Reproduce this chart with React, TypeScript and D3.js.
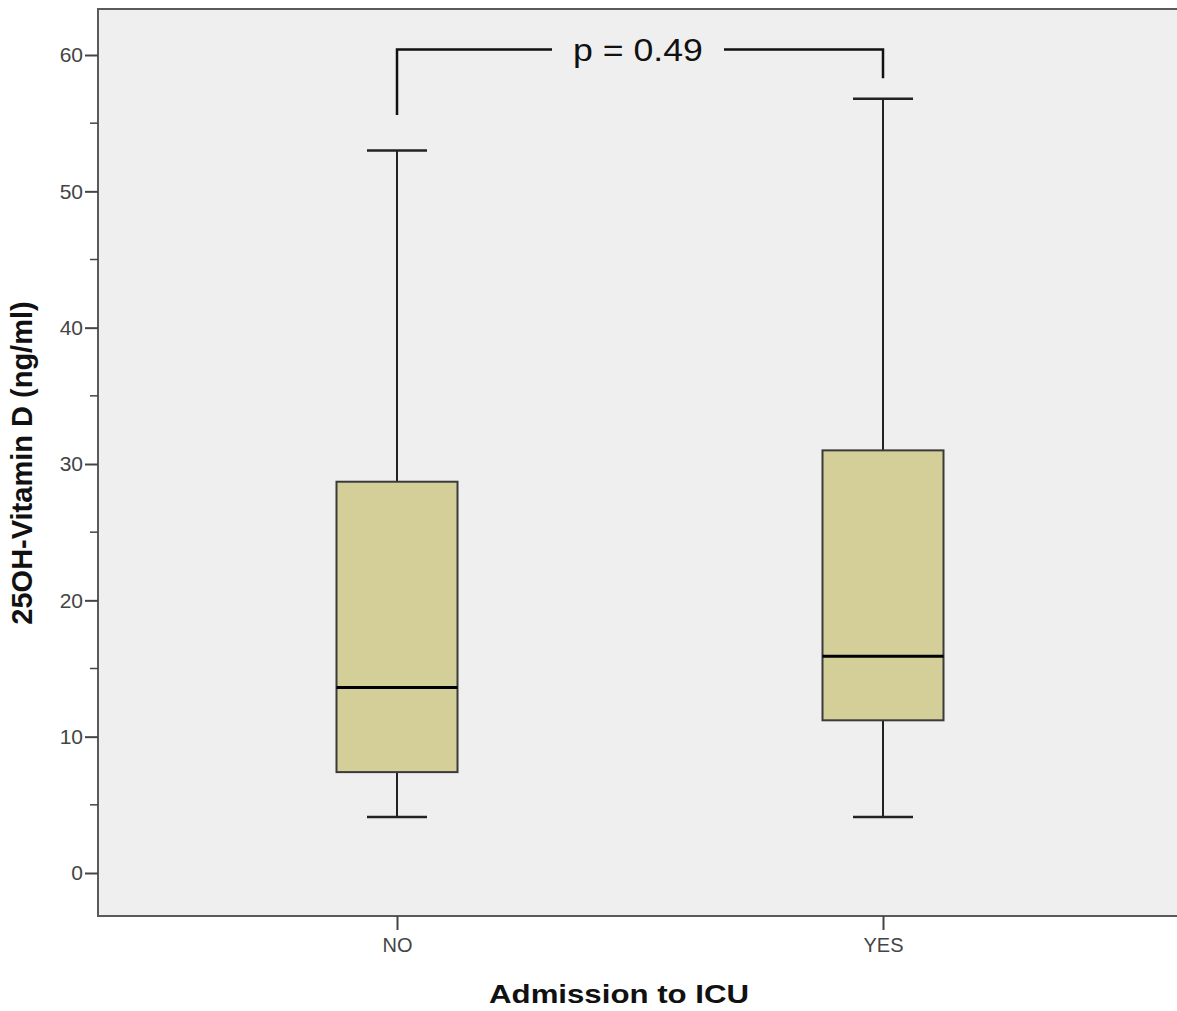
import React, { useEffect, useRef } from 'react'
import * as d3 from 'd3'

// values
const categories = ['NO', 'YES']
const whiskerLow = [4.1, 4.1]
const q1 = [7.4, 11.2]
const median = [13.6, 15.9]
const q3 = [28.7, 31.0]
const whiskerHigh = [53.0, 56.8]
const yTicks = [0, 10, 20, 30, 40, 50, 60]
const yMinorTicks = [5, 15, 25, 35, 45, 55]
const pLabel = 'p = 0.49'
const bracketTop = 60.4
const bracketEnds = [55.6, 58.3]

const W = 1177
const H = 1011
const FONT = 'Arial, Liberation Sans, sans-serif'

export default function App() {
  const ref = useRef<SVGSVGElement | null>(null)

  useEffect(() => {
    const svg = d3.select(ref.current)
    svg.selectAll('*').remove()

    const left = 98, top = 9, bottom = 916, right = 1190
    const y = d3.scaleLinear().domain([0, 60]).range([873, 55])
    const x = d3.scalePoint<string>().domain(categories).range([397, 883])
    const boxW = 121
    const capW = 60

    svg.append('rect')
      .attr('x', left).attr('y', top)
      .attr('width', right - left).attr('height', bottom - top)
      .attr('fill', '#efefef')
      .attr('stroke', '#5a5a5a')
      .attr('stroke-width', 2)

    const yAxis = svg.append('g').attr('transform', `translate(${left},0)`)
    yAxis.call(d3.axisLeft(y).tickValues(yTicks).tickSize(13).tickPadding(2).tickFormat(d3.format('d')) as any)
    yAxis.select('.domain').remove()
    yAxis.selectAll('line').attr('stroke', '#444').attr('stroke-width', 2)
    yAxis.selectAll('text')
      .attr('font-family', FONT)
      .attr('font-size', 21).attr('fill', '#444')
    yAxis.selectAll('.minor').data(yMinorTicks).enter()
      .append('line')
      .attr('x1', -8).attr('x2', 0)
      .attr('y1', d => y(d)).attr('y2', d => y(d))
      .attr('stroke', '#444').attr('stroke-width', 1.5)

    const xAxis = svg.append('g').attr('transform', `translate(0,${bottom})`)
    xAxis.call(d3.axisBottom(x).tickSize(14).tickPadding(8) as any)
    xAxis.select('.domain').remove()
    xAxis.selectAll('line').attr('stroke', '#444').attr('stroke-width', 2)
    xAxis.selectAll('text')
      .attr('font-family', FONT)
      .attr('font-size', 20).attr('fill', '#444')

    const g = svg.append('g')
    categories.forEach((c, i) => {
      const cx = x(c)!
      g.append('line')
        .attr('x1', cx).attr('x2', cx)
        .attr('y1', y(whiskerHigh[i])).attr('y2', y(q3[i]))
        .attr('stroke', '#222').attr('stroke-width', 2)
      g.append('line')
        .attr('x1', cx).attr('x2', cx)
        .attr('y1', y(q1[i])).attr('y2', y(whiskerLow[i]))
        .attr('stroke', '#222').attr('stroke-width', 2)
      ;[whiskerHigh[i], whiskerLow[i]].forEach(v => {
        g.append('line')
          .attr('x1', cx - capW / 2).attr('x2', cx + capW / 2)
          .attr('y1', y(v)).attr('y2', y(v))
          .attr('stroke', '#222').attr('stroke-width', 2.5)
      })
      g.append('rect')
        .attr('x', cx - boxW / 2).attr('y', y(q3[i]))
        .attr('width', boxW).attr('height', y(q1[i]) - y(q3[i]))
        .attr('fill', '#d4cf99')
        .attr('stroke', '#3a3a3a').attr('stroke-width', 2)
      g.append('line')
        .attr('x1', cx - boxW / 2).attr('x2', cx + boxW / 2)
        .attr('y1', y(median[i])).attr('y2', y(median[i]))
        .attr('stroke', '#000').attr('stroke-width', 3)
    })

    // significance bracket
    const x0 = x(categories[0])!, x1 = x(categories[1])!
    const midX = 638
    const gap = 86
    const br = svg.append('g').attr('fill', 'none').attr('stroke', '#111').attr('stroke-width', 2.5)
    br.append('path').attr('d', `M${x0},${y(bracketEnds[0])}V${y(bracketTop)}H${midX - gap}`)
    br.append('path').attr('d', `M${midX + gap},${y(bracketTop)}H${x1}V${y(bracketEnds[1])}`)
    svg.append('text')
      .attr('transform', `translate(${midX},${y(bracketTop) + 11}) scale(1.15,1)`)
      .attr('text-anchor', 'middle')
      .attr('font-family', FONT)
      .attr('font-size', 31).attr('fill', '#111')
      .text(pLabel)

    svg.append('text')
      .attr('transform', `translate(619,1003) scale(1.2,1)`)
      .attr('text-anchor', 'middle')
      .attr('font-family', FONT)
      .attr('font-weight', 'bold').attr('font-size', 26).attr('fill', '#111')
      .text('Admission to ICU')

    svg.append('text')
      .attr('transform', `translate(32,463) rotate(-90)`)
      .attr('text-anchor', 'middle')
      .attr('font-family', FONT)
      .attr('font-weight', 'bold').attr('font-size', 29).attr('fill', '#111')
      .text('25OH-Vitamin D (ng/ml)')
  }, [])

  return <svg ref={ref} width={W} height={H} style={{ position: 'absolute', left: 0, top: 0, background: '#fff' }} />
}
